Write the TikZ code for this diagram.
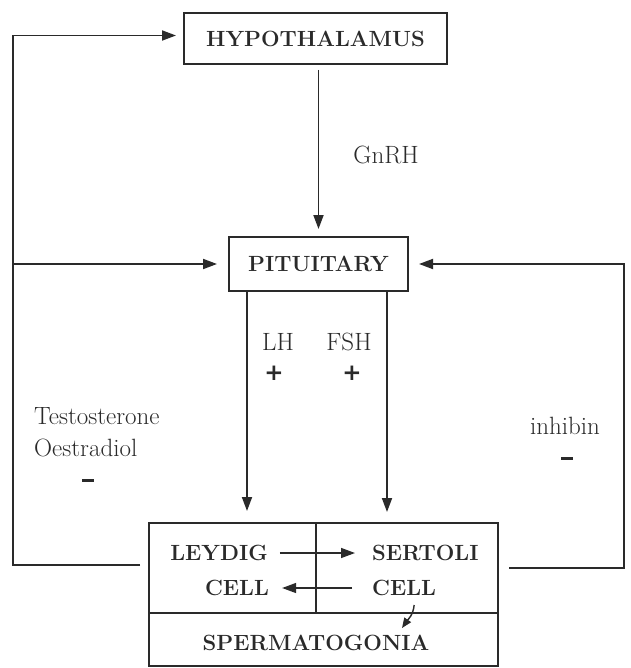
\documentclass[tikz,border=0pt]{standalone}
\usepackage{fontspec}
\usepackage{tikz}
\usetikzlibrary{arrows.meta,calc,positioning}
\newfontfamily\signfont{DejaVu Sans}
\definecolor{ink}{HTML}{2A2A2A}
\definecolor{paper}{HTML}{FFFFFF}

\begin{document}
\begin{tikzpicture}[x=1pt,y=-1pt,>={Triangle[length=14pt,width=10pt]},
  organ/.style={draw=ink,line width=2pt,inner sep=0pt,text=ink,font=\fontsize{22}{24}\selectfont\bfseries},
  celltext/.style={inner sep=0pt,text=ink,font=\fontsize{22}{24}\selectfont\bfseries},
  hormone/.style={inner sep=0pt,text=ink,font=\fontsize{25}{32}\selectfont},
  sign/.style={inner sep=0pt,text=ink,font=\signfont\fontsize{23}{23}\selectfont\bfseries},
  link/.style={draw=ink,line width=1.8pt}]
\fill[paper] (0,0) rectangle (630,668);
\useasboundingbox (0,0) rectangle (630,668);
% glands
\node[organ,minimum width=263pt,minimum height=51pt] (hyp) at (315.5,38.5) {HYPOTHALAMUS};
\node[organ,minimum width=179pt,minimum height=54pt] (pit) at (318.5,264) {PITUITARY};
% testis
\node[organ,minimum width=349pt,minimum height=143pt] (testis) at (323.5,594.5) {};
\coordinate (split) at (316,613);
\draw[link] (testis.north -| split) -- (split);
\draw[link] (testis.west |- split) -- (testis.east |- split);
\node[celltext] (leydig) at (219,553) {LEYDIG};
\node[celltext] (lcell) at (237,588) {CELL};
\node[celltext,anchor=west] (sertoli) at (372,553) {SERTOLI};
\node[celltext,anchor=west] (scell) at (372,588) {CELL};
\node[celltext] (sperm) at (316,643) {SPERMATOGONIA};
\coordinate (sgtip) at (402,628);
\draw[link,line width=1.4pt,->,shorten <=12pt,shorten >=17pt] (leydig.east) -- (sertoli.west);
\draw[link,line width=1.4pt,->,shorten <=20pt,shorten >=13pt] (scell.west) -- (lcell.east);
\draw[link,line width=1.4pt,-{Triangle[length=10pt,width=8pt]}] ([xshift=10pt,yshift=-9pt]scell.south) to[out=-95,in=55] (sgtip);
% hormones
\coordinate (lhtop) at ([xshift=-71.5pt]pit.south);
\coordinate (fshtop) at ([xshift=68.5pt]pit.south);
\draw[link,->,shorten <=5pt,shorten >=7pt] (hyp.south -| pit.north) -- (pit.north);
\draw[link,->,shorten >=11pt] (lhtop) -- (lhtop |- testis.north);
\draw[link,->,shorten >=10pt] (fshtop) -- (fshtop |- testis.north);
\node[hormone] (gnrh) at (386,155) {GnRH};
\node[hormone] (lh) at (278,342) {LH};
\node[hormone] (fsh) at (349,342) {FSH};
\node[sign] (lhplus) at (274,373) {+};
\node[sign] (fshplus) at (352,373) {+};
% feedback
\node[hormone,align=left,anchor=north west] (steroids) at (34,407) {Testosterone\\Oestradiol};
\node[sign] (stminus) at (88,480) {\rule{12pt}{3pt}};
\node[hormone] (inhibin) at (565,426) {inhibin};
\node[sign] (inminus) at (567,458) {\rule{12pt}{3pt}};
\coordinate (lfoot) at (140,565);
\coordinate (lcorner) at (13,565);
\coordinate (rfoot) at (509,568);
\coordinate (rcorner) at (624,568);
\draw[link,->,shorten >=7pt] (lfoot) -- (lcorner) |- ([yshift=3pt]hyp.west);
\draw[link,->,shorten >=11pt] (lcorner |- pit.west) -- (pit.west);
\draw[link,->,shorten >=10pt] (rfoot) -- (rcorner) |- (pit.east);
\end{tikzpicture}
\end{document}
